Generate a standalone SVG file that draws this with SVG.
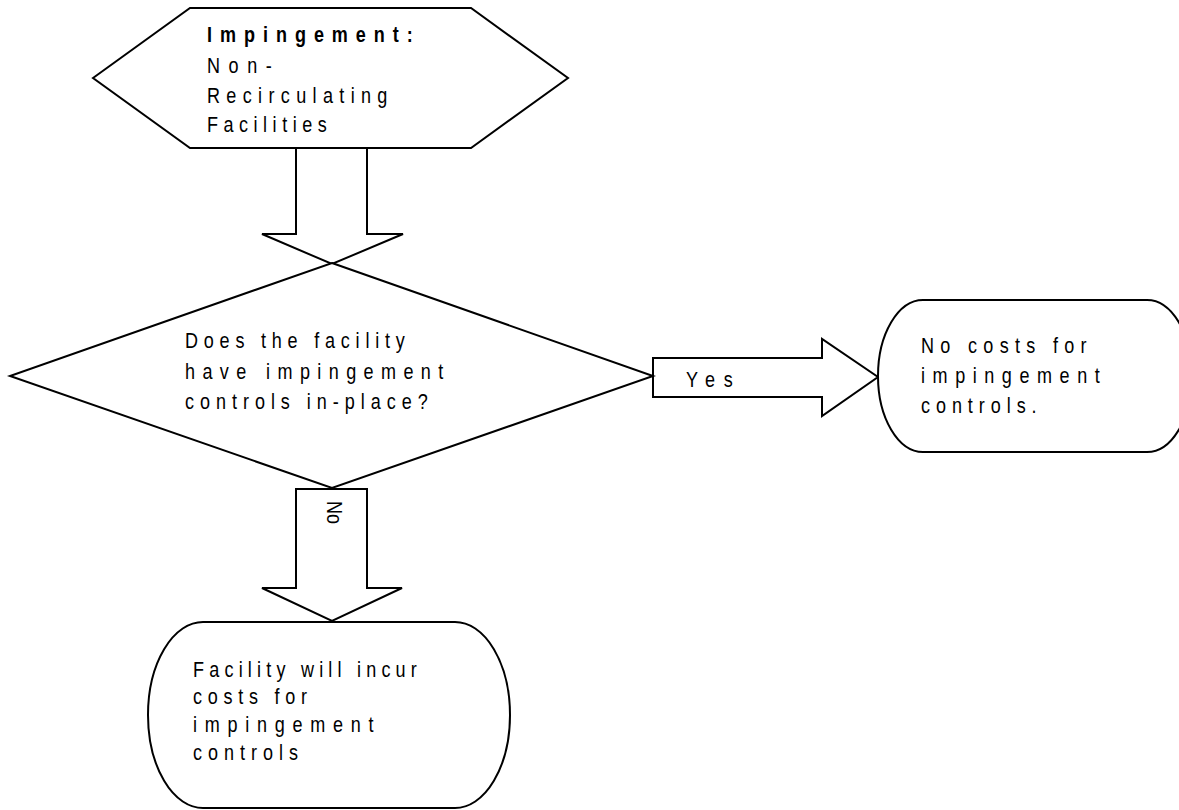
<svg xmlns="http://www.w3.org/2000/svg" width="1179" height="810" viewBox="0 0 1179 810">
<style>
.s{fill:#fff;stroke:#000;stroke-width:2;stroke-linejoin:miter}
.t{font-family:"Liberation Sans",Arial,sans-serif;font-size:22px;fill:#000}
.b{font-weight:bold}
</style>
<rect width="1179" height="810" fill="#fff"/>
<g id="connectors">
<polygon class="s" points="296,148 367,148 367,234 403,234 332,264 262,234 296,234"/>
<polygon class="s" points="653,358 822,358 822,339 878,377 822,416 822,397 653,397"/>
<polygon class="s" points="296,489 367,489 367,588 402,588 332,621 262,588 296,588"/>
<text class="t" transform="translate(686,387) scale(0.82,1)" textLength="57" lengthAdjust="spacing">Yes</text>
<text class="t" transform="translate(327,501) rotate(90) scale(0.82,1)">No</text>
</g>
<g id="start">
<g transform="translate(207,0) scale(0.82,1)">
<text class="t b" x="0" y="42" textLength="251" lengthAdjust="spacing">Impingement:</text>
<text class="t" x="0" y="73" textLength="79" lengthAdjust="spacing">Non-</text>
<text class="t" x="0" y="103" textLength="220" lengthAdjust="spacing">Recirculating</text>
<text class="t" x="0" y="132" textLength="146" lengthAdjust="spacing">Facilities</text>
</g>
<polygon class="s" points="93,78 190,8 471,8 568,78 471,148 190,148" fill="none" style="fill:none"/>
</g>
<g id="decision">
<polygon class="s" points="332,263 653,376 332,488 10,376"/>
<g transform="translate(185,0) scale(0.82,1)">
<text class="t" x="0" y="348" textLength="268" lengthAdjust="spacing">Does the facility</text>
<text class="t" x="0" y="379" textLength="315" lengthAdjust="spacing">have impingement</text>
<text class="t" x="0" y="409" textLength="296" lengthAdjust="spacing">controls in-place?</text>
</g>
</g>
<g id="yes-result">
<rect class="s" x="878" y="300" width="314" height="152" rx="45" ry="76"/>
<g transform="translate(921,0) scale(0.82,1)">
<text class="t" x="0" y="353" textLength="202" lengthAdjust="spacing">No costs for</text>
<text class="t" x="0" y="383" textLength="218" lengthAdjust="spacing">impingement</text>
<text class="t" x="0" y="413" textLength="141" lengthAdjust="spacing">controls.</text>
</g>
</g>
<g id="no-result">
<rect class="s" x="148" y="622" width="362" height="186" rx="55" ry="93"/>
<g transform="translate(193,0) scale(0.82,1)">
<text class="t" x="0" y="677" textLength="273" lengthAdjust="spacing">Facility will incur</text>
<text class="t" x="0" y="704" textLength="139" lengthAdjust="spacing">costs for</text>
<text class="t" x="0" y="732" textLength="220" lengthAdjust="spacing">impingement</text>
<text class="t" x="0" y="760" textLength="128" lengthAdjust="spacing">controls</text>
</g>
</g>
</svg>
